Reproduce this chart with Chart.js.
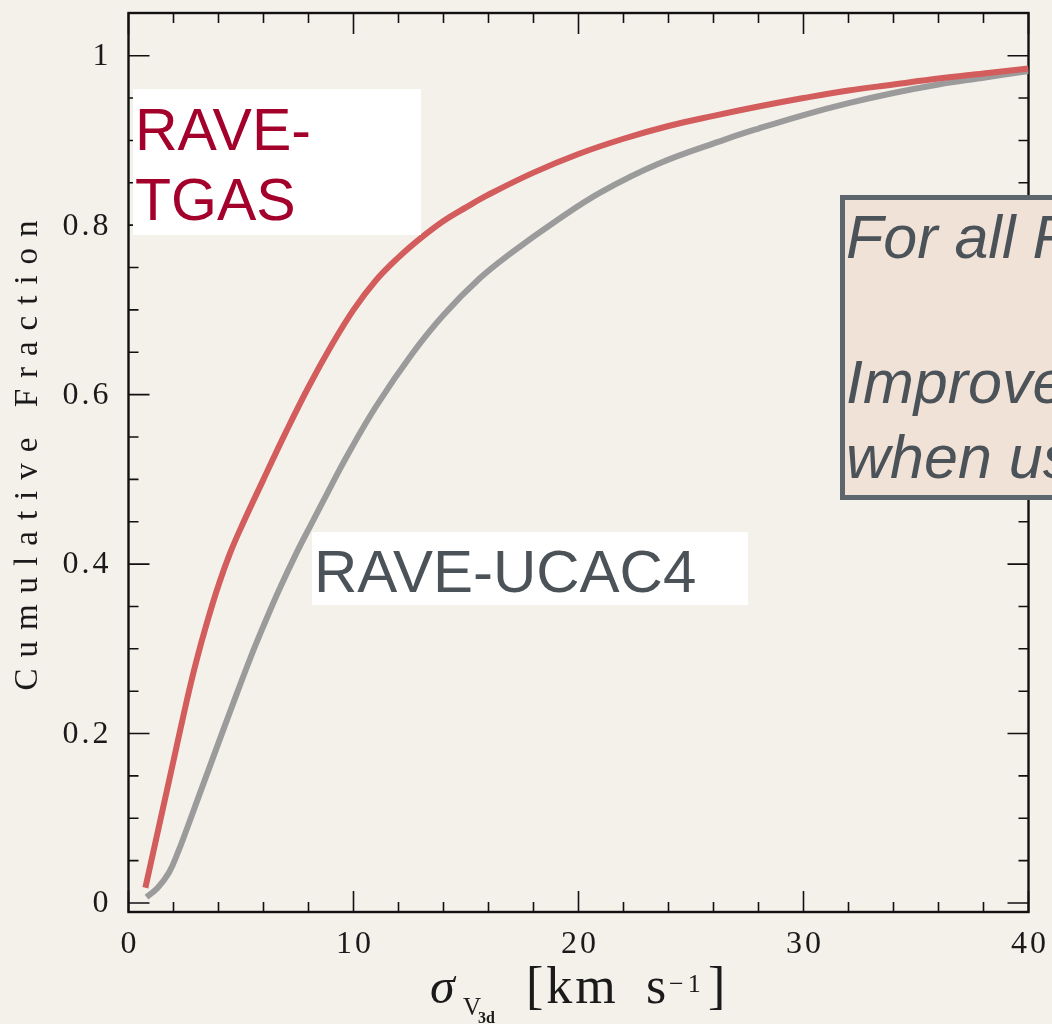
<!DOCTYPE html>
<html><head><meta charset="utf-8">
<script src="https://cdn.jsdelivr.net/npm/chart.js@4.4.1/dist/chart.umd.min.js"></script>
<style>
html,body{margin:0;padding:0;background:#f4f1eb;overflow:hidden}
canvas{display:block}
</style></head>
<body>
<canvas id="c" width="1052" height="1024"></canvas>
<script>
// ---- data ----
const tgasX = [0.75, 1.5, 2.0, 2.6, 3.0, 3.5, 4.0, 4.5, 5.0, 6.0, 7.0, 8.0, 9.0, 10.0, 11.0, 12.0, 13.0, 14.0, 15.0, 16.0, 18.0, 20.0, 22.0, 24.0, 26.0, 28.0, 30.0, 32.0, 34.0, 36.0, 38.0, 40.0];
const tgasY = [0.018, 0.108, 0.168, 0.240, 0.284, 0.332, 0.375, 0.412, 0.443, 0.500, 0.556, 0.609, 0.657, 0.700, 0.735, 0.762, 0.785, 0.805, 0.821, 0.836, 0.862, 0.884, 0.902, 0.917, 0.929, 0.940, 0.950, 0.959, 0.966, 0.973, 0.979, 0.985];
const ucacX = [0.8, 1.3, 1.8, 2.2, 2.6, 3.0, 3.5, 4.0, 4.6, 5.4, 6.0, 6.7, 7.5, 8.1, 9.0, 9.7, 11.0, 12.6, 14.0, 15.6, 17.0, 19.0, 21.0, 23.5, 26.5, 28.0, 30.0, 32.0, 34.0, 36.0, 38.0, 40.0];
const ucacY = [0.007, 0.018, 0.036, 0.060, 0.088, 0.117, 0.153, 0.189, 0.232, 0.288, 0.327, 0.370, 0.415, 0.446, 0.492, 0.527, 0.586, 0.648, 0.694, 0.737, 0.767, 0.805, 0.839, 0.872, 0.901, 0.914, 0.930, 0.944, 0.956, 0.966, 0.974, 0.982];
const seriesNames = ['RAVE-TGAS', 'RAVE-UCAC4'];
const xTicks = [0, 10, 20, 30, 40];
const xTickLabels = ['0', '10', '20', '30', '40'];
const yTicks = [0, 0.2, 0.4, 0.6, 0.8, 1];
const yTickLabels = ['0', '0.2', '0.4', '0.6', '0.8', '1'];
const xMinorStep = 2;
const yMinorStep = 0.05;
const yTitle = 'Cumulative Fraction';
const noteLines = ['For all RAVE stars:', 'Improved precision', 'when using TGAS'];

const BG = '#f4f1eb';
const SERIF = '"Liberation Serif", "DejaVu Serif", serif';
const SANS = '"Liberation Sans", Arial, sans-serif';

const toPts = (xs, ys) => xs.map((x, i) => ({x: x, y: ys[i]}));

const framePlugin = {
  id: 'frame',
  beforeDraw(chart) {
    const ctx = chart.ctx;
    ctx.save();
    ctx.fillStyle = BG;
    ctx.fillRect(0, 0, chart.width, chart.height);
    ctx.restore();
  },
  beforeDatasetsDraw(chart) {
    const ctx = chart.ctx, a = chart.chartArea;
    const xs = chart.scales.x, ys = chart.scales.y;
    ctx.save();
    ctx.strokeStyle = '#111';
    ctx.lineWidth = 1.6;
    ctx.beginPath();
    const nx = Math.round((xs.max - xs.min) / xMinorStep);
    for (let i = 0; i <= nx; i++) {
      const v = xs.min + i * xMinorStep;
      const px = xs.getPixelForValue(v);
      const L = xTicks.some(t => Math.abs(t - v) < 1e-6) ? 21 : 10;
      ctx.moveTo(px, a.bottom); ctx.lineTo(px, a.bottom - L);
      ctx.moveTo(px, a.top); ctx.lineTo(px, a.top + L);
    }
    const ny = Math.round(1 / yMinorStep);
    for (let i = 0; i <= ny; i++) {
      const v = i * yMinorStep;
      const py = ys.getPixelForValue(v);
      const L = yTicks.some(t => Math.abs(t - v) < 1e-6) ? 21 : 10;
      ctx.moveTo(a.left, py); ctx.lineTo(a.left + L, py);
      ctx.moveTo(a.right, py); ctx.lineTo(a.right - L, py);
    }
    ctx.stroke();
    ctx.lineWidth = 2.4;
    ctx.strokeRect(a.left, a.top, a.right - a.left, a.bottom - a.top);

    // tick labels
    ctx.fillStyle = '#1a1a1a';
    ctx.font = '32px ' + SERIF;
    ctx.letterSpacing = '3px';
    ctx.textAlign = 'right';
    ctx.textBaseline = 'middle';
    yTicks.forEach((v, i) => {
      ctx.fillText(yTickLabels[i], a.left - 17, ys.getPixelForValue(v) + 1);
    });
    ctx.textAlign = 'center';
    ctx.textBaseline = 'alphabetic';
    xTicks.forEach((v, i) => {
      ctx.fillText(xTickLabels[i], xs.getPixelForValue(v) + 1.5, 953);
    });

    // y title
    ctx.save();
    ctx.translate(37, 455);
    ctx.rotate(-Math.PI / 2);
    ctx.font = '33px ' + SERIF;
    ctx.letterSpacing = '11px';
    ctx.textAlign = 'center';
    ctx.fillText(yTitle, 5, 0);
    ctx.restore();

    // x title pieces
    ctx.textAlign = 'left';
    ctx.letterSpacing = '0px';
    ctx.font = 'italic 50px ' + SERIF;
    ctx.fillText('\u03C3', 430, 1003);
    ctx.font = '25px ' + SERIF;
    ctx.fillText('V', 463, 1015);
    ctx.font = 'bold 16px ' + SERIF;
    ctx.fillText('3d', 478, 1023);
    ctx.font = '52px ' + SERIF;
    ctx.letterSpacing = '3px';
    ctx.fillText('[km', 526, 1003);
    ctx.letterSpacing = '0px';
    ctx.fillText('s', 646, 1003);
    ctx.font = '26px ' + SERIF;
    ctx.letterSpacing = '4px';
    ctx.fillText('\u22121', 669, 992);
    ctx.letterSpacing = '0px';
    ctx.font = '52px ' + SERIF;
    ctx.fillText(']', 708, 1003);
    ctx.restore();
  },
  afterDraw(chart) {
    const ctx = chart.ctx;
    ctx.save();
    ctx.letterSpacing = '0px';
    ctx.textAlign = 'left';
    ctx.textBaseline = 'alphabetic';
    // RAVE-TGAS label
    ctx.fillStyle = '#ffffff';
    ctx.fillRect(133, 89, 288, 146);
    ctx.fillStyle = '#a3002b';
    ctx.font = '59px ' + SANS;
    ctx.fillText('RAVE-', 135, 150);
    ctx.fillText('TGAS', 135, 220);
    // RAVE-UCAC4 label
    ctx.fillStyle = '#ffffff';
    ctx.fillRect(312, 532, 436, 73);
    ctx.fillStyle = '#4b5359';
    ctx.font = '60px ' + SANS;
    ctx.fillText(seriesNames[1], 314, 592);
    // note box
    ctx.fillStyle = '#f0e2d7';
    ctx.fillRect(842.5, 197.5, 400, 300);
    ctx.strokeStyle = '#5d666c';
    ctx.lineWidth = 5;
    ctx.strokeRect(842.5, 197.5, 400, 300);
    ctx.fillStyle = '#4b5359';
    ctx.font = 'italic 61px ' + SANS;
    ctx.fillText(noteLines[0], 846, 258);
    ctx.fillText(noteLines[1], 846, 403);
    ctx.fillText(noteLines[2], 846, 478);
    ctx.restore();
  }
};

new Chart(document.getElementById('c'), {
  type: 'scatter',
  data: {
    datasets: [
      {label: seriesNames[0], data: toPts(tgasX, tgasY), showLine: true, borderColor: '#d35c5c', borderWidth: 6, pointRadius: 0, tension: 0.4, fill: false},
      {label: seriesNames[1], data: toPts(ucacX, ucacY), showLine: true, borderColor: '#9b9b9b', borderWidth: 6, pointRadius: 0, tension: 0.4, fill: false}
    ]
  },
  options: {
    responsive: false,
    animation: false,
    devicePixelRatio: 1,
    layout: {padding: {left: 128.5, top: 13, right: 23.5, bottom: 112}},
    scales: {
      x: {type: 'linear', min: 0, max: 40, display: false},
      y: {type: 'linear', min: -0.0106, max: 1.0504, display: false}
    },
    plugins: {legend: {display: false}, tooltip: {enabled: false}}
  },
  plugins: [framePlugin]
});
</script>
</body></html>
